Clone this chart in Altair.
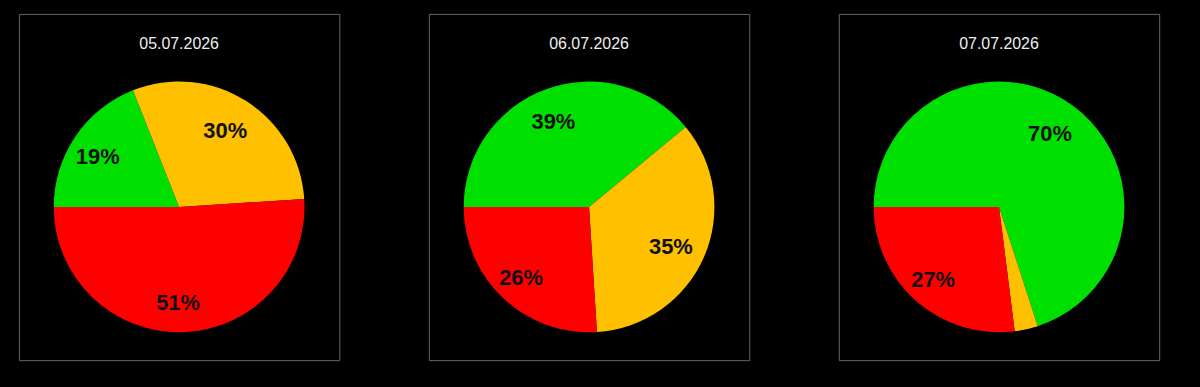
import math
import altair as alt
import pandas as pd

dates = ["05.07.2026", "06.07.2026", "07.07.2026"]
categories = ["Grün", "Gelb", "Rot"]
colors = ["#00E000", "#FFC000", "#FF0000"]
green_vals = [19, 39, 70]
yellow_vals = [30, 35, 3]
red_vals = [51, 26, 27]

rows = []
for i, d in enumerate(dates):
    for j, (cat, vals) in enumerate(zip(categories, [green_vals, yellow_vals, red_vals])):
        rows.append({"date": d, "cat": cat, "ord": j, "value": vals[i]})
df = pd.DataFrame(rows)

W, H = 322, 348
CX, CY = 161, 194
R = 126

panels = []
for d in dates:
    base = (
        alt.Chart(df)
        .transform_filter(alt.datum.date == d)
        .transform_calculate(label="datum.value >= 5 ? datum.value + '%' : ''")
        .encode(
            theta=alt.Theta("value:Q", stack=True,
                            scale=alt.Scale(range=[1.5 * math.pi, 3.5 * math.pi])),
            order=alt.Order("ord:Q"),
            color=alt.Color("cat:N", scale=alt.Scale(domain=categories, range=colors), legend=None),
        )
    )
    arc = base.mark_arc(outerRadius=R, strokeWidth=0).encode(x=alt.value(CX), y=alt.value(CY))
    txt = base.mark_text(radius=94, dx=-4, dy=3, fontSize=22, fontWeight="bold", font="Liberation Sans",
                         align="center", baseline="middle").encode(
        text="label:N", x=alt.value(CX), y=alt.value(CY), color=alt.value("#111111"))
    title = alt.Chart(pd.DataFrame({"date": [d]})).mark_text(
        fontSize=16, font="Liberation Sans", color="#eeeeee", align="center", baseline="middle"
    ).encode(text="date:N", x=alt.value(CX), y=alt.value(30))
    panels.append(alt.layer(arc, txt, title).properties(width=W, height=H))

chart = (
    alt.hconcat(*panels, spacing=88)
    .properties(background="black", padding={"left": 18, "top": 12, "right": 40, "bottom": 27})
    .configure_view(stroke="#666666", strokeWidth=1)
)

chart.save("out.html", embed_options={"renderer": "svg", "actions": False})
